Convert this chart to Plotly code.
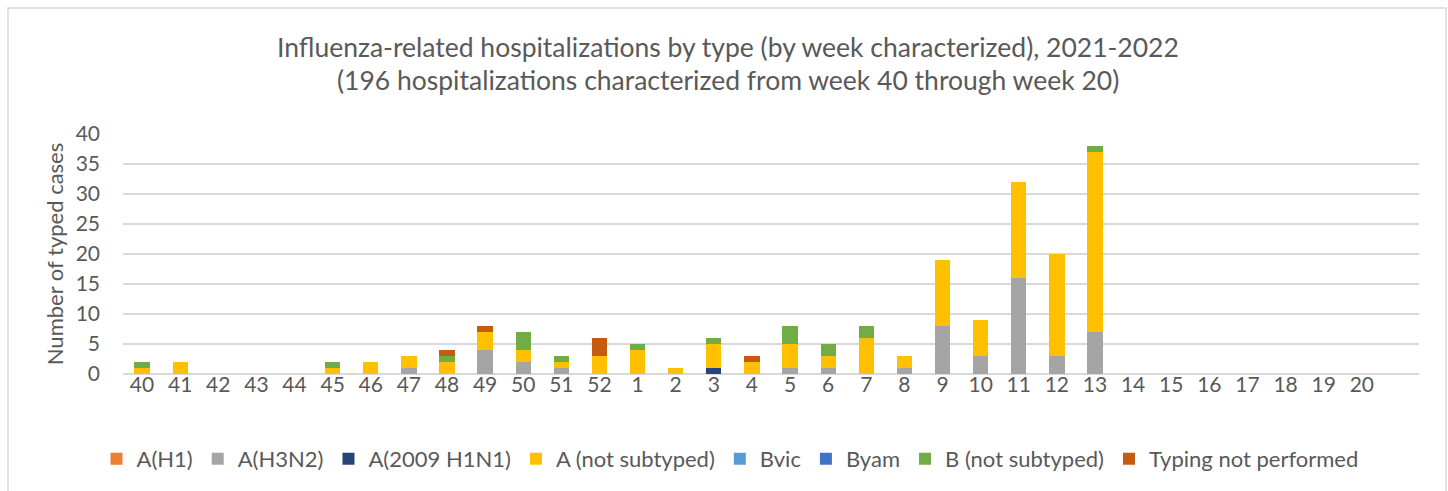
import plotly.graph_objects as go

weeks = ["40", "41", "42", "43", "44", "45", "46", "47", "48", "49", "50", "51", "52",
         "1", "2", "3", "4", "5", "6", "7", "8", "9", "10", "11", "12", "13",
         "14", "15", "16", "17", "18", "19", "20"]

a_h1 =            [0, 0, 0, 0, 0, 0, 0, 0, 0, 0, 0, 0, 0, 0, 0, 0, 0, 0, 0, 0, 0, 0, 0, 0, 0, 0, 0, 0, 0, 0, 0, 0, 0]
a_h3n2 =          [0, 0, 0, 0, 0, 0, 0, 1, 0, 4, 2, 1, 0, 0, 0, 0, 0, 1, 1, 0, 1, 8, 3, 16, 3, 7, 0, 0, 0, 0, 0, 0, 0]
a_2009_h1n1 =     [0, 0, 0, 0, 0, 0, 0, 0, 0, 0, 0, 0, 0, 0, 0, 1, 0, 0, 0, 0, 0, 0, 0, 0, 0, 0, 0, 0, 0, 0, 0, 0, 0]
a_not_subtyped =  [1, 2, 0, 0, 0, 1, 2, 2, 2, 3, 2, 1, 3, 4, 1, 4, 2, 4, 2, 6, 2, 11, 6, 16, 17, 30, 0, 0, 0, 0, 0, 0, 0]
bvic =            [0, 0, 0, 0, 0, 0, 0, 0, 0, 0, 0, 0, 0, 0, 0, 0, 0, 0, 0, 0, 0, 0, 0, 0, 0, 0, 0, 0, 0, 0, 0, 0, 0]
byam =            [0, 0, 0, 0, 0, 0, 0, 0, 0, 0, 0, 0, 0, 0, 0, 0, 0, 0, 0, 0, 0, 0, 0, 0, 0, 0, 0, 0, 0, 0, 0, 0, 0]
b_not_subtyped =  [1, 0, 0, 0, 0, 1, 0, 0, 1, 0, 3, 1, 0, 1, 0, 1, 0, 3, 2, 2, 0, 0, 0, 0, 0, 1, 0, 0, 0, 0, 0, 0, 0]
typing_not_perf = [0, 0, 0, 0, 0, 0, 0, 0, 1, 1, 0, 0, 3, 0, 0, 0, 1, 0, 0, 0, 0, 0, 0, 0, 0, 0, 0, 0, 0, 0, 0, 0, 0]

series = [
    ("A(H1)", a_h1, "#ED7D31"),
    ("A(H3N2)", a_h3n2, "#A5A5A5"),
    ("A(2009 H1N1)", a_2009_h1n1, "#264478"),
    ("A (not subtyped)", a_not_subtyped, "#FFC000"),
    ("Bvic", bvic, "#5B9BD5"),
    ("Byam", byam, "#4472C4"),
    ("B (not subtyped)", b_not_subtyped, "#70AD47"),
    ("Typing not performed", typing_not_perf, "#C55A11"),
]

title_lines = ["Influenza-related hospitalizations by type (by week characterized), 2021-2022",
               "(196 hospitalizations characterized from week 40 through week 20)"]

FONT = "Lato"
TXT = "#595959"

fig = go.Figure()
for name, vals, col in series:
    fig.add_trace(go.Bar(x=weeks, y=vals, name=name, marker=dict(color=col, line=dict(width=0))))

W, H = 1448, 491
L, R, T, B = 123, 29, 134, 117
pw, ph = W - L - R, H - T - B

fig.update_layout(
    width=W, height=H,
    barmode="stack", bargap=0.6,
    plot_bgcolor="white", paper_bgcolor="white",
    margin=dict(l=L, r=R, t=T, b=B, autoexpand=False),
    font=dict(family=FONT, color=TXT, size=21),
    showlegend=True,
    legend=dict(orientation="h", x=(730) / W, xanchor="center", xref="container",
                y=(H - 459) / H, yref="container", yanchor="middle",
                font=dict(size=22, color=TXT), traceorder="normal",
                itemwidth=30),
)
fig.update_xaxes(type="category", categoryorder="array", categoryarray=weeks,
                 range=[-0.5, 33.5], showgrid=False, showline=False, zeroline=False,
                 ticks="", tickfont=dict(size=21, color=TXT), ticklabelstandoff=-4,
                 fixedrange=True)
fig.update_yaxes(range=[0, 40], dtick=5, tick0=0, showgrid=True, gridcolor="#D9D9D9",
                 gridwidth=2, zeroline=True, zerolinecolor="#D9D9D9", zerolinewidth=2,
                 showline=False, ticks="", tickfont=dict(size=21, color=TXT),
                 ticklabelstandoff=22,
                 title=dict(text="Number of typed cases", font=dict(size=22, color=TXT), standoff=5))

# title lines
for i, line in enumerate(title_lines):
    fig.add_annotation(text=line, xref="paper", yref="paper",
                       x=(728 - L) / pw, y=(H - B - (47 + 33 * i)) / ph,
                       xanchor="center", yanchor="middle", showarrow=False,
                       font=dict(family=FONT, size=26.5, color=TXT))

# outer chart border
fig.add_shape(type="rect", xref="paper", yref="paper",
              x0=(8 - L) / pw, x1=(1446 - L) / pw,
              y0=(H - B - 500) / ph, y1=(H - B - 8) / ph,
              line=dict(color="#D9D9D9", width=1.5), fillcolor="rgba(0,0,0,0)", layer="below")

fig.write_html("out.html", config={"displayModeBar": False},
               post_script="document.body.style.margin='0';document.body.style.overflow='hidden';")
